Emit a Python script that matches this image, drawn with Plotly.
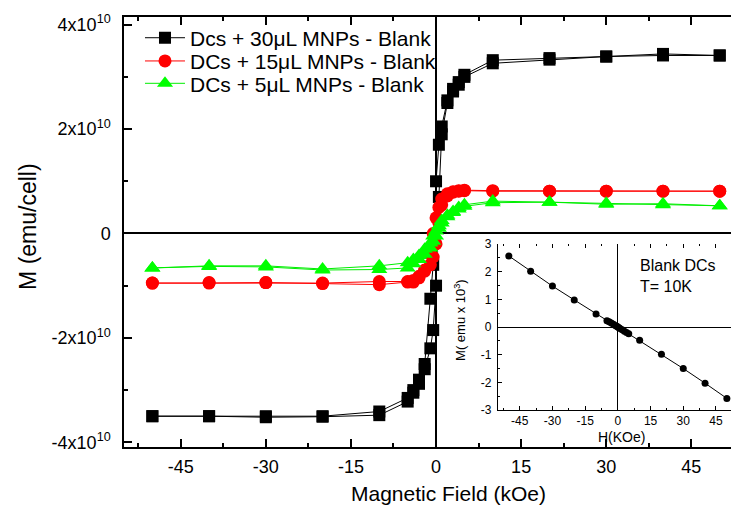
import plotly.graph_objects as go

# ---------------- data (M in units of 1e10 emu/cell) ----------------
field_desc = [50, 40, 30, 20, 10, 5, 4, 3, 2, 1, 0.5, 0, -0.5, -1, -2, -3, -4, -5, -10, -20, -30, -40, -50]
field_asc = [-50, -40, -30, -20, -10, -5, -4, -3, -2, -1, -0.5, 0, 0.5, 1, 2, 3, 4, 5, 10, 20, 30, 40, 50]

m30_desc = [3.41, 3.44, 3.39, 3.36, 3.32, 3.04, 2.90, 2.77, 2.55, 2.05, 1.70, 1.00, -0.60, -1.25, -2.50, -2.80, -3.00, -3.15, -3.41, -3.50, -3.50, -3.50, -3.50]
m30_asc = [-3.50, -3.50, -3.52, -3.51, -3.48, -3.22, -3.05, -2.88, -2.60, -2.20, -1.85, -1.00, 0.70, 1.90, 2.50, 2.72, 2.85, 3.00, 3.26, 3.33, 3.39, 3.41, 3.41]

m15_desc = [0.81, 0.81, 0.81, 0.81, 0.82, 0.83, 0.82, 0.80, 0.76, 0.66, 0.50, 0.30, 0.00, -0.40, -0.70, -0.85, -0.93, -0.93, -0.98, -0.96, -0.94, -0.95, -0.95]
m15_asc = [-0.95, -0.94, -0.94, -0.95, -0.92, -0.92, -0.90, -0.82, -0.72, -0.60, -0.45, -0.20, 0.20, 0.55, 0.72, 0.79, 0.81, 0.82, 0.81, 0.81, 0.81, 0.81, 0.81]

m5_desc = [0.53, 0.57, 0.56, 0.60, 0.62, 0.55, 0.50, 0.42, 0.35, 0.25, 0.15, 0.05, -0.05, -0.18, -0.30, -0.42, -0.50, -0.56, -0.62, -0.68, -0.62, -0.62, -0.66]
m5_asc = [-0.66, -0.63, -0.64, -0.70, -0.69, -0.66, -0.58, -0.50, -0.40, -0.28, -0.15, -0.05, 0.10, 0.20, 0.32, 0.40, 0.47, 0.52, 0.59, 0.60, 0.58, 0.55, 0.53]

series_names = ["Dcs + 30μL MNPs - Blank", "DCs + 15μL MNPs - Blank", "DCs + 5μL MNPs - Blank"]

main_xticks = [-45, -30, -15, 0, 15, 30, 45]
main_xticktext = ["-45", "-30", "-15", "0", "15", "30", "45"]
main_yticks = [-4, -2, 0, 2, 4]
main_yticktext = ["-4x10<sup>10</sup>", "-2x10<sup>10</sup>", "0", "2x10<sup>10</sup>", "4x10<sup>10</sup>"]

# inset: blank DCs, T = 10 K
inset_h = [-50, -40, -30, -20, -10, -5, -4, -3, -2, -1, -0.5, 0, 0.5, 1, 2, 3, 4, 5, 10, 20, 30, 40, 50]
inset_m = [2.57, 2.02, 1.48, 0.98, 0.47, 0.23, 0.19, 0.15, 0.10, 0.05, 0.03, 0.00, -0.03, -0.05, -0.10, -0.15, -0.20, -0.24, -0.48, -0.98, -1.50, -2.03, -2.58]
inset_xticks = [-45, -30, -15, 0, 15, 30, 45]
inset_xticktext = ["-45", "-30", "-15", "0", "15", "30", "45"]
inset_yticks = [-3, -2, -1, 0, 1, 2, 3]
inset_yticktext = ["-3", "-2", "-1", "0", "1", "2", "3"]

FONT = "Liberation Sans, Arial, sans-serif"

fig = go.Figure()

styles = [
    dict(color="black", symbol="square", size=12, line="black"),
    dict(color="#ff0000", symbol="circle", size=13, line="#ff0000"),
    dict(color="#00ff00", symbol="triangle-up", size=14, line="#00ee00"),
]
data_sets = [(m30_desc, m30_asc), (m15_desc, m15_asc), (m5_desc, m5_asc)]
legend_ids = ["legend", "legend2", "legend3"]

for name, (d, a), st, lg in zip(series_names, data_sets, styles, legend_ids):
    fig.add_trace(go.Scatter(
        x=field_desc + field_asc, y=d + a, name=name, mode="lines+markers",
        line=dict(color=st["line"], width=1),
        marker=dict(color=st["color"], symbol=st["symbol"], size=st["size"], line=dict(width=0)),
        xaxis="x", yaxis="y", legend=lg,
    ))

fig.add_trace(go.Scatter(
    x=inset_h, y=inset_m, mode="lines+markers", showlegend=False,
    line=dict(color="black", width=1),
    marker=dict(color="black", size=7, symbol="circle"),
    xaxis="x2", yaxis="y2",
))

axis_common = dict(showgrid=False, linecolor="black", ticks="inside", tickcolor="black", automargin=False)


def legend_box(y):
    return dict(x=0.026, y=y, xanchor="left", yanchor="middle", bgcolor="rgba(0,0,0,0)",
                font=dict(size=21, family=FONT), itemwidth=40, borderwidth=0)


# the page body has an 8px margin, so the figure is 8px smaller than the window
fig.update_layout(
    width=731, height=503,
    margin=dict(l=116, r=0, t=9, b=64, autoexpand=False),
    paper_bgcolor="white", plot_bgcolor="white",
    font=dict(family=FONT, color="black"),
    showlegend=True,
    legend=legend_box(0.951),
    legend2=legend_box(0.897),
    legend3=legend_box(0.845),
    xaxis=dict(**axis_common, range=[-55, 53.4], domain=[0, 1], linewidth=1.5, tickwidth=1.5, ticklen=8,
               mirror="ticks", tickvals=main_xticks, ticktext=main_xticktext, tickfont=dict(size=18),
               minor=dict(ticks="inside", ticklen=4, tickwidth=1.5, dtick=7.5, tick0=0, tickcolor="black"),
               zeroline=True, zerolinecolor="black", zerolinewidth=1.5, ticklabelstandoff=3, anchor="y"),
    yaxis=dict(**axis_common, range=[-4.09, 4.147], domain=[0, 1], linewidth=1.5, tickwidth=1.5, ticklen=8,
               tickvals=main_yticks, ticktext=main_yticktext, tickfont=dict(size=18),
               minor=dict(ticks="inside", ticklen=4, tickwidth=1.5, dtick=1, tick0=0, tickcolor="black"),
               zeroline=True, zerolinecolor="black", zerolinewidth=1.5, ticklabelstandoff=8, anchor="x"),
    xaxis2=dict(**axis_common, range=[-55, 55], domain=[0.608, 0.998], anchor="y2", linewidth=1, tickwidth=1,
                ticklen=4, tickvals=inset_xticks, ticktext=inset_xticktext, tickfont=dict(size=12),
                minor=dict(ticks="inside", ticklen=2, tickwidth=1, dtick=7.5, tick0=0, tickcolor="black"),
                zeroline=True, zerolinecolor="black", zerolinewidth=1.2, showline=True, ticklabelstandoff=0),
    yaxis2=dict(**axis_common, range=[-3, 3], domain=[0.086, 0.472], anchor="x2", linewidth=1, tickwidth=1,
                ticklen=4, tickvals=inset_yticks, ticktext=inset_yticktext, tickfont=dict(size=12),
                minor=dict(ticks="inside", ticklen=2, tickwidth=1, dtick=0.5, tick0=0, tickcolor="black"),
                zeroline=True, zerolinecolor="black", zerolinewidth=1.2, showline=True, ticklabelstandoff=3),
    xaxis3=dict(showgrid=False, range=[-55, 55], overlaying="x2", side="top", anchor="y2", showline=False,
                ticks="inside", ticklen=4, tickwidth=1, tickcolor="black", tickvals=inset_xticks,
                showticklabels=False, zeroline=False, automargin=False,
                minor=dict(ticks="inside", ticklen=2, tickwidth=1, dtick=7.5, tick0=0, tickcolor="black")),
    yaxis3=dict(showgrid=False, range=[-3, 3], overlaying="y2", side="right", anchor="x2", showline=False,
                ticks="inside", ticklen=4, tickwidth=1, tickcolor="black", tickvals=inset_yticks,
                showticklabels=False, zeroline=False, automargin=False,
                minor=dict(ticks="inside", ticklen=2, tickwidth=1, dtick=0.5, tick0=0, tickcolor="black")),
)

# empty trace so the overlay (tick-only) axes of the inset are drawn
fig.add_trace(go.Scatter(x=[None], y=[None], xaxis="x3", yaxis="y3", showlegend=False, hoverinfo="skip"))

fig.add_annotation(text="Magnetic Field (kOe)", xref="paper", yref="paper", x=0.527, y=-0.107,
                   xanchor="center", yanchor="middle", showarrow=False, font=dict(size=21, family=FONT))
fig.add_annotation(text="M (emu/cell)", xref="paper", yref="paper", x=-0.156, y=0.512, textangle=-90,
                   xanchor="center", yanchor="middle", showarrow=False, font=dict(size=23, family=FONT))
fig.add_annotation(text="H(KOe)", xref="paper", yref="paper", x=0.809, y=0.024,
                   xanchor="center", yanchor="middle", showarrow=False, font=dict(size=14, family=FONT))
fig.add_annotation(text="M( emu x 10<sup>3</sup>)", xref="paper", yref="paper", x=0.546, y=0.295, textangle=-90,
                   xanchor="center", yanchor="middle", showarrow=False, font=dict(size=13, family=FONT))
fig.add_annotation(text="Blank DCs<br>T= 10K", xref="paper", yref="paper", x=0.836, y=0.446, align="left",
                   xanchor="left", yanchor="top", showarrow=False, font=dict(size=16, family=FONT))

fig.write_html("out.html")
